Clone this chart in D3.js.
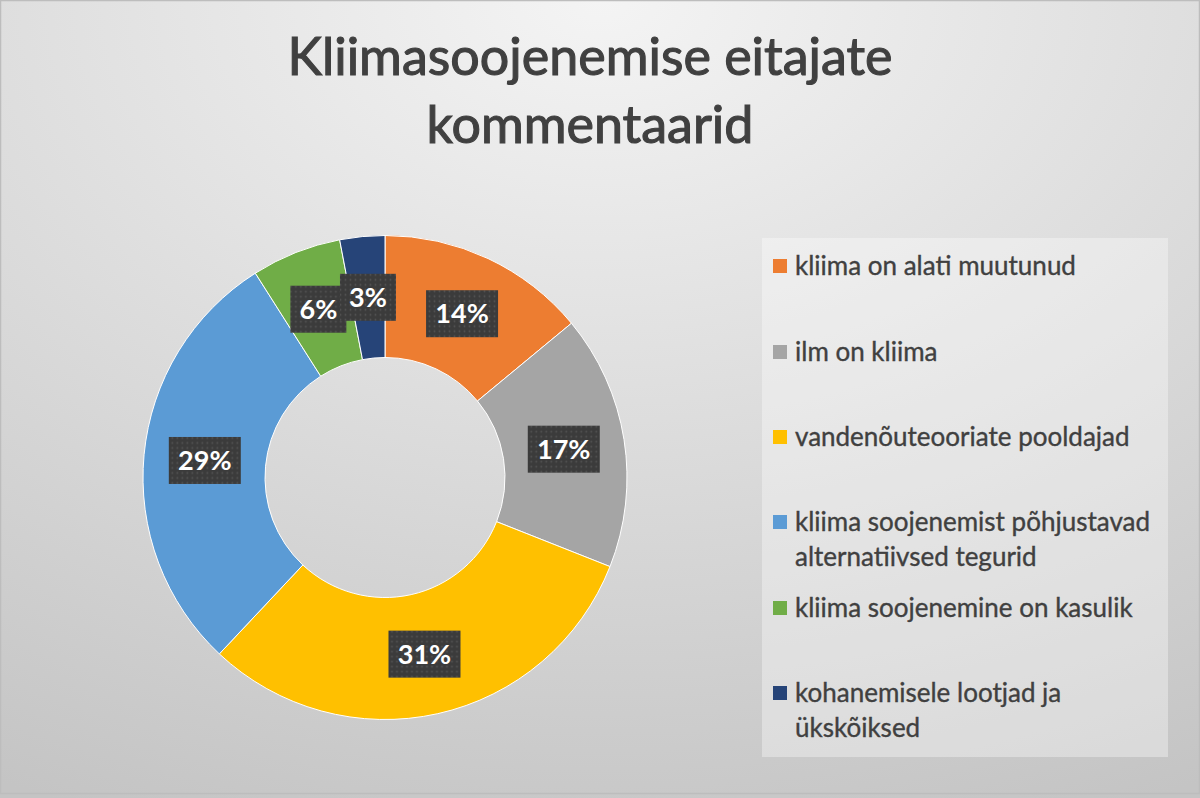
<!DOCTYPE html>
<html>
<head>
<meta charset="utf-8">
<script src="https://cdn.jsdelivr.net/npm/d3@7"></script>
<style>
html,body{margin:0;padding:0;background:#fff;}
svg{display:block;}
</style>
</head>
<body>
<svg id="chart" width="1200" height="798"></svg>
<script>
const categories = [
  "kliima on alati muutunud",
  "ilm on kliima",
  "vandenõuteooriate pooldajad",
  "kliima soojenemist põhjustavad alternatiivsed tegurid",
  "kliima soojenemine on kasulik",
  "kohanemisele lootjad ja ükskõiksed"
];
const legendLines = [
  ["kliima on alati muutunud"],
  ["ilm on kliima"],
  ["vandenõuteooriate pooldajad"],
  ["kliima soojenemist põhjustavad", "alternatiivsed tegurid"],
  ["kliima soojenemine on kasulik"],
  ["kohanemisele lootjad ja", "ükskõiksed"]
];
const values = [14, 17, 31, 29, 6, 3];
const colors = ["#ED7D31", "#A5A5A5", "#FFC000", "#5B9BD5", "#70AD47", "#264478"];
const titleLines = ["Kliimasoojenemise eitajate", "kommentaarid"];

const svg = d3.select("#chart");
const W = 1200, H = 798;
const defs = svg.append("defs");

const bg = defs.append("radialGradient").attr("id","bg")
  .attr("cx","50%").attr("cy","0%").attr("r","110%").attr("fx","50%").attr("fy","0%");
bg.append("stop").attr("offset","0%").attr("stop-color","#f4f4f4");
bg.append("stop").attr("offset","100%").attr("stop-color","#c4c4c4");

const pat = defs.append("pattern").attr("id","dots").attr("width",5).attr("height",5)
  .attr("patternUnits","userSpaceOnUse");
pat.append("rect").attr("width",5).attr("height",5).attr("fill","#3b3b3b");
pat.append("circle").attr("cx",2.5).attr("cy",2.5).attr("r",0.9).attr("fill","#555");

svg.append("rect").attr("width",W).attr("height",H).attr("fill","url(#bg)");
svg.append("rect").attr("x",0.5).attr("y",0.5).attr("width",W-1).attr("height",H-5)
  .attr("fill","none").attr("stroke","#bdbdbd").attr("stroke-width",1.5);

// Title
svg.append("g").selectAll("text").data(titleLines).join("text")
  .attr("x", 590).attr("y", (d,i) => 75 + i*68)
  .attr("text-anchor","middle")
  .attr("font-family","Lato, 'Open Sans', sans-serif")
  .attr("font-size", 52)
  .attr("fill","#404040")
  .attr("stroke","#404040").attr("stroke-width",1.1)
  .text(d => d);

// Donut
const cx = 385, cy = 477.5, R = 242, r0 = 120;
const pie = d3.pie().sort(null).value(d => d);
const arcs = pie(values);
const arc = d3.arc().innerRadius(r0).outerRadius(R);
const g = svg.append("g").attr("transform",`translate(${cx},${cy})`);
g.selectAll("path").data(arcs).join("path")
  .attr("d", arc)
  .attr("fill", (d,i) => colors[i])
  .attr("stroke","#ffffff").attr("stroke-width",1);

// Labels
const labelArc = d3.arc().innerRadius((R+r0)/2).outerRadius((R+r0)/2);
const labels = g.selectAll("g.lbl").data(arcs).join("g").attr("class","lbl")
  .attr("transform", d => `translate(${labelArc.centroid(d)})`);
labels.append("rect")
  .attr("x", d => d.data >= 10 ? -36 : -28)
  .attr("y", -23.5)
  .attr("width", d => d.data >= 10 ? 72 : 56)
  .attr("height", 47)
  .attr("fill","url(#dots)");
labels.append("text")
  .attr("text-anchor","middle").attr("dy","0.36em")
  .attr("font-family","Lato, 'Open Sans', sans-serif")
  .attr("font-weight","bold").attr("font-size",27)
  .attr("fill","#ffffff")
  .text(d => d.data + "%");

// Legend
const lg = svg.append("g");
lg.append("rect").attr("x",762).attr("y",238).attr("width",406).attr("height",519)
  .attr("fill","#ffffff").attr("opacity",0.35);
const itemY = [266, 352, 437, 522, 608, 693];
const items = lg.selectAll("g.item").data(categories).join("g").attr("class","item")
  .attr("transform",(d,i)=>`translate(773,${itemY[i]})`);
items.append("rect").attr("x",0).attr("y",-7).attr("width",14).attr("height",14)
  .attr("fill",(d,i)=>colors[i]);
items.append("text")
  .attr("font-family","Lato, 'Open Sans', sans-serif")
  .attr("font-size",26).attr("fill","#404040")
  .attr("stroke","#404040").attr("stroke-width",0.35)
  .selectAll("tspan").data((d,i)=>legendLines[i]).join("tspan")
  .attr("x",22).attr("y",(d,j)=>j*35).attr("dy","0.35em")
  .text(d=>d);
</script>
</body>
</html>
